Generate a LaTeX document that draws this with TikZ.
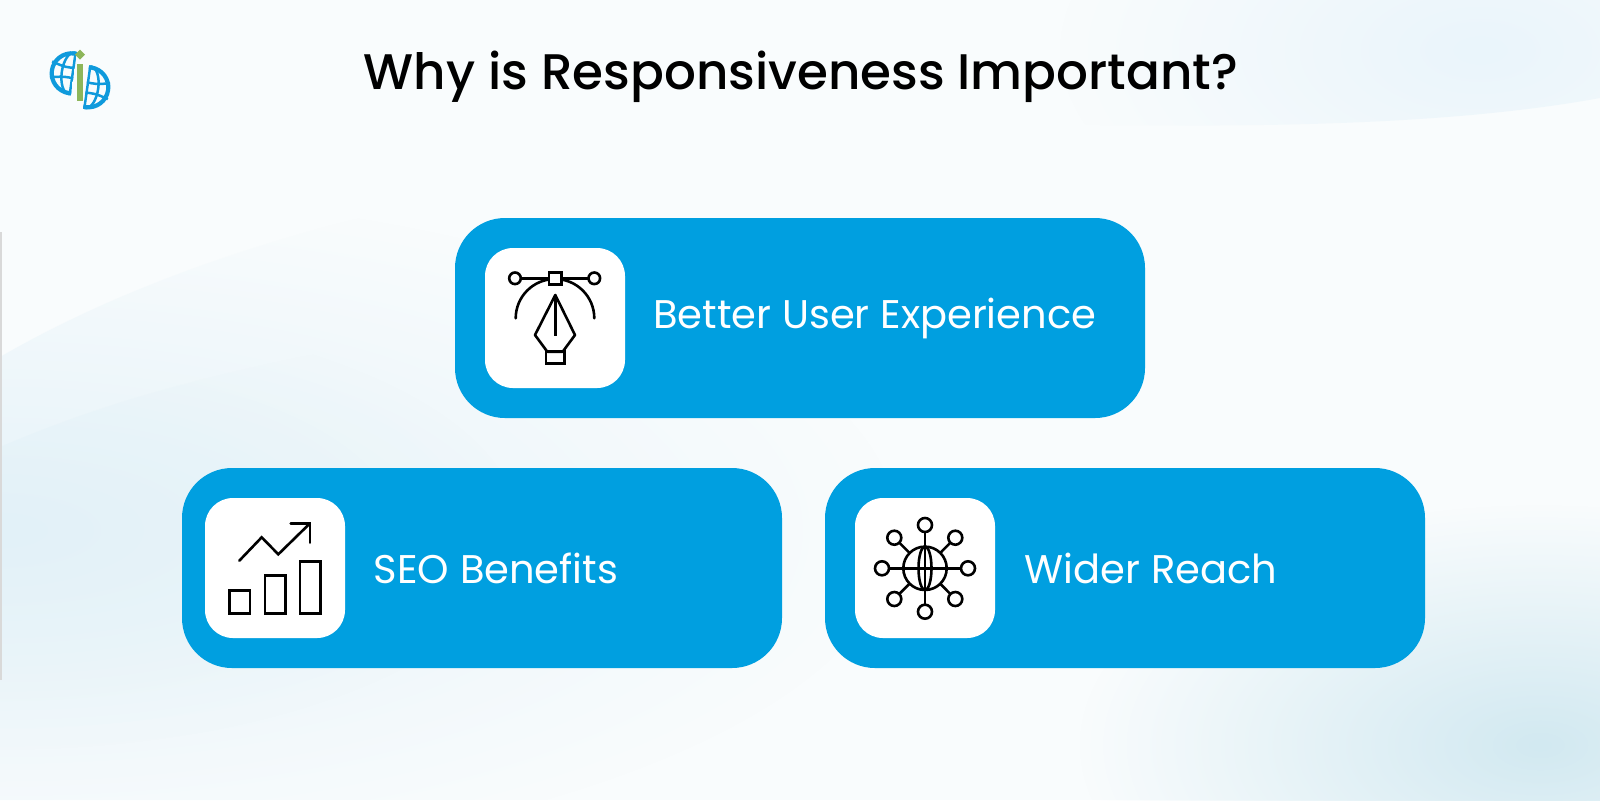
\documentclass[tikz,border=0pt]{standalone}
\usepackage{fontspec}
\usetikzlibrary{fadings}
\setmainfont{Poppins}
\newfontfamily\titlefont{Poppins Medium}
\definecolor{basebg}{HTML}{F9FCFD}
\definecolor{boxblue}{HTML}{009FE0}
\definecolor{logoblue}{HTML}{0F9ADC}
\definecolor{logogreen}{HTML}{8DB65A}
\definecolor{glowbr}{HTML}{D2E9F1}
\definecolor{glowa}{HTML}{E6F3F9}
\definecolor{glowb}{HTML}{E0F0F8}
\definecolor{glowc}{HTML}{EAF5FB}
\tikzfading[name=softfade,inner color=transparent!0,outer color=transparent!100]
\tikzset{
  glow/.style={path fading=softfade},
  card/.style={fill=boxblue,rounded corners=25pt},
  iconbg/.style={fill=white,rounded corners=14pt},
  ink/.style={draw=black,line width=1.3pt,line join=miter,fill=none},
  inkw/.style={draw=black,line width=1.3pt,fill=white},
  label/.style={text=white,font=\fontsize{20}{24}\selectfont,anchor=base west,inner sep=0pt},
  globeline/.style={draw=logoblue,line width=1.25pt}
}
\begin{document}
\begin{tikzpicture}[x=.5pt,y=-.5pt]
\useasboundingbox (0,0) rectangle (1600,800);
\fill[basebg] (0,0) rectangle (1600,800);
\begin{scope}
  \clip (0,0) rectangle (1600,800);
  % bottom-right glow
  \fill[glowbr,glow] (1540,745) ellipse (460 and 240);
  % left waves
  \begin{scope}
    \clip (0,357) .. controls (150,270) and (400,180) .. (800,150) -- (1100,140) -- (1100,800) -- (0,800) -- cycle;
    \fill[glowa,glow] (0,530) ellipse (900 and 340);
  \end{scope}
  \begin{scope}
    \clip (0,447) .. controls (100,405) and (200,370) .. (500,320) -- (800,290) -- (800,800) -- (0,800) -- cycle;
    \fill[glowb,glow,fill opacity=.6] (0,530) ellipse (520 and 220);
  \end{scope}
  % top-right wave
  \begin{scope}
    \clip (900,118) -- (1100,125) .. controls (1320,128) and (1480,120) .. (1600,98) -- (1600,0) -- (900,0) -- cycle;
    \fill[glowc,glow] (1480,50) ellipse (420 and 220);
  \end{scope}
\end{scope}
\fill[gray!30] (0,232) rectangle (1.5,680);

% logo
\begin{scope}[shift={(71.7,73.3)},rotate=-8]
  \clip (-24,-24) rectangle (2.2,24);
  \draw[globeline,line width=2.1pt] (0,0) circle (20);
  \draw[globeline] (0,0) ellipse (10 and 21);
  \draw[globeline] (1,-21) -- (1,21);
  \draw[globeline] (-21,-9) .. controls (-8,-5) and (-4,-5) .. (3,-6);
  \draw[globeline] (-21,7) .. controls (-8,4) and (-4,4) .. (3,5);
\end{scope}
\begin{scope}[shift={(88.3,87.3)},rotate=-8]
  \clip (-2.2,-24) rectangle (24,24);
  \draw[globeline,line width=2.1pt] (0,0) circle (20);
  \draw[globeline] (0,0) ellipse (10 and 21);
  \draw[globeline] (-1,-21) -- (-1,21);
  \draw[globeline] (-3,-5) .. controls (4,-4) and (8,-4) .. (21,-7);
  \draw[globeline] (-3,6) .. controls (4,5) and (8,5) .. (21,9);
\end{scope}
\fill[logogreen] (76.7,64) rectangle (83.3,100.7);
\fill[logogreen] (80,49.7) -- (85,54.7) -- (80,59.7) -- (75,54.7) -- cycle;

% title
\node[anchor=base,inner sep=0pt,text=black,font=\titlefont\fontsize{25}{29}\selectfont] (title) at (801,89) {Why is Responsiveness Important?};

% cards
\path[card] (455,218) rectangle (1145,418);
\path[card] (182,468) rectangle (782,668);
\path[card] (825,468) rectangle (1425,668);
\path[iconbg] (485,248) rectangle (625,388);
\path[iconbg] (205,498) rectangle (345,638);
\path[iconbg] (855,498) rectangle (995,638);

% labels
\node[label] (l1) at (653,328) {Better User Experience};
\node[label] (l2) at (373.5,583) {SEO Benefits};
\node[label] (l3) at (1024.5,583) {Wider Reach};

% pen icon
\draw[ink,line cap=round] (515.7,318.3) arc[start angle=180,end angle=360,x radius=39.3,y radius=39.3];
\draw[ink] (521,278.3) -- (589,278.3);
\draw[inkw] (515,278.3) circle (5.8);
\draw[inkw] (594.3,278.3) circle (5.8);
\draw[inkw] (549,272.3) rectangle (561.7,284.3);
\draw[ink,line join=round] (555.3,295) -- (535,335) -- (547.3,351.7) -- (562.7,351.7) -- (575,335) -- cycle;
\draw[ink] (555.3,295) -- (555.3,336);
\draw[ink] (546,351.7) rectangle (564.3,363.3);

% chart icon
\draw[ink] (229.3,590.3) rectangle (250,613.3);
\draw[ink] (265,575.7) rectangle (285.7,613.3);
\draw[ink] (300,561.3) rectangle (320.7,613.3);
\draw[ink,line cap=round] (239.3,560.7) -- (261.7,537.3) -- (278.3,554.3) -- (310,523.3);
\draw[ink,line cap=round] (290.7,523.3) -- (310,523.3) -- (310,542.7);

% network icon
\foreach \a/\b in {925/525,925/611.7,882/568.3,968/568.3,894.3/537.7,955.3/537.7,894.3/599,955.3/599}{
  \draw[ink] (925,568.3) -- (\a,\b);
  \draw[inkw] (\a,\b) circle (7);
}
\draw[inkw] (925,568.3) circle (21.7);
\draw[ink] (925,568.3) ellipse (6.5 and 21.7);
\draw[ink] (925,546.6) -- (925,590);
\draw[ink] (903.3,568.3) -- (946.7,568.3);
\end{tikzpicture}
\end{document}
